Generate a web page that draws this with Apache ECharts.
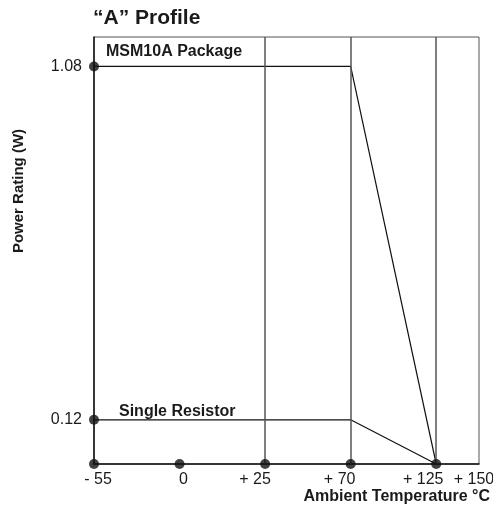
<!DOCTYPE html>
<html><head><meta charset="utf-8">
<script src="https://cdn.jsdelivr.net/npm/echarts@6/dist/echarts.min.js"></script>
<style>html,body{margin:0;padding:0;background:#fff}#c{width:493px;height:512px}</style>
</head><body><div id="c"></div>
<script>
const categories = ['- 55', '0', '+ 25', '+ 70', '+ 125', '+ 150'];
const catPositions = [0, 1, 2, 3, 4, 4.5];
const packageCurve = [1.08, 1.08, 0]; // at -55, +70, +125
const resistorCurve = [0.12, 0.12, 0];
const curveTemps = [0, 3, 4]; // indices into categories
const yTicks = [0.12, 1.08];
const axisDots = [0, 1, 2, 3, 4];
const guideLines = [2, 3, 4];
const labelShift = [[8, 0], [8, 0], [0, 20], [0, 22], [0, 26], [0, 10]];

const F = 'Liberation Sans, Arial, Helvetica, sans-serif';
const chart = echarts.init(document.getElementById('c'), null, {renderer: 'canvas'});
const pos = v => catPositions[v];
chart.setOption({
  animation: false,
  title: {text: '\u201cA\u201d Profile', left: 93, top: 8, padding: 0,
    textStyle: {fontFamily: F, fontSize: 21, fontWeight: 'bold', color: '#1a1a1a'}},
  grid: {left: 94, right: 14, top: 37, bottom: 48, show: true, borderColor: '#555', borderWidth: 1,
    outerBoundsMode: 'none', containLabel: false},
  xAxis: {type: 'value', min: 0, max: 4.5, interval: 0.5,
    axisLine: {lineStyle: {color: '#111', width: 1.5}},
    axisTick: {show: false}, splitLine: {show: false},
    axisLabel: {margin: 8, color: '#1a1a1a', fontFamily: F, fontSize: 16, showMaxLabel: true,
      formatter: v => {
        const i = catPositions.indexOf(v);
        if (i < 0) return '';
        return '{p' + i + '|' + categories[i] + '}';
      },
      rich: Object.fromEntries(labelShift.map((s, i) => ['p' + i,
        {padding: [0, s[1], 0, s[0]], fontSize: 16, fontFamily: F, color: '#1a1a1a'}]))
    }},
  yAxis: {type: 'value', min: 0, max: 1.16,
    axisLine: {show: true, lineStyle: {color: '#111', width: 1.5}},
    axisTick: {show: false}, splitLine: {show: false},
    axisLabel: {customValues: yTicks, margin: 12, color: '#1a1a1a', fontFamily: F, fontSize: 16,
      formatter: v => v.toFixed(2)}},
  graphic: [
    {type: 'text', left: 106, top: 44, style: {text: 'MSM10A Package', font: 'bold 16px ' + F, fill: '#1a1a1a'}},
    {type: 'text', left: 119, top: 404, style: {text: 'Single Resistor', font: 'bold 16px ' + F, fill: '#1a1a1a'}},
    {type: 'text', right: 3, top: 489, style: {text: 'Ambient Temperature \u00b0C', font: 'bold 16px ' + F, fill: '#1a1a1a'}},
    {type: 'text', x: 19, y: 191, rotation: Math.PI / 2,
      style: {text: 'Power Rating (W)', font: 'bold 15px ' + F, fill: '#1a1a1a', align: 'center', verticalAlign: 'middle'}}
  ],
  series: [
    {type: 'line', symbol: 'none', lineStyle: {color: '#111', width: 1.2},
      data: curveTemps.map((t, i) => [pos(t), packageCurve[i]]),
      markLine: {silent: true, symbol: 'none', label: {show: false},
        lineStyle: {color: '#555', width: 1.5, type: 'solid'},
        data: guideLines.map(t => ({xAxis: pos(t)}))}},
    {type: 'line', symbol: 'none', lineStyle: {color: '#111', width: 1.2},
      data: curveTemps.map((t, i) => [pos(t), resistorCurve[i]])},
    {type: 'scatter', symbolSize: 10, itemStyle: {color: '#111'}, z: 5,
      data: axisDots.map(t => [pos(t), 0]).concat(yTicks.map(v => [pos(0), v]))}
  ]
});
</script></body></html>
